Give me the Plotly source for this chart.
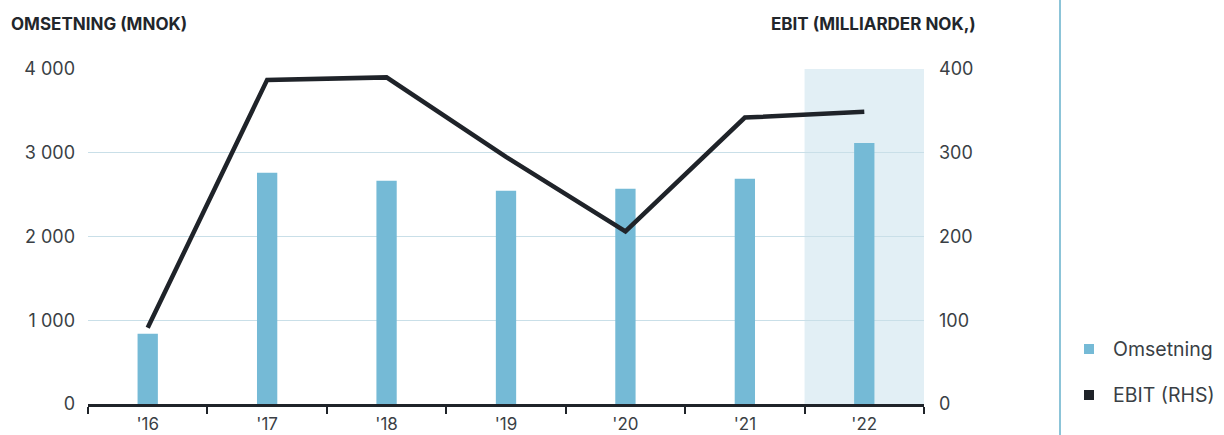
import plotly.graph_objects as go

years = ["'16", "'17", "'18", "'19", "'20", "'21", "'22"]
omsetning = [840, 2760, 2665, 2545, 2570, 2690, 3115]   # MNOK, left axis
ebit = [91, 387, 390, 295, 206, 342, 349]               # right axis (RHS)

bar_color = "#75bad6"
line_color = "#1f2329"
text_color = "#3a3f45"
font_family = "Inter, 'DejaVu Sans', sans-serif"

fig = go.Figure()

fig.add_trace(go.Bar(
    x=years, y=omsetning, name="Omsetning",
    marker=dict(color=bar_color, line=dict(width=0)),
    width=0.17, showlegend=False,
))

fig.add_trace(go.Scatter(
    x=years, y=ebit, name="EBIT (RHS)", yaxis="y2",
    mode="lines", line=dict(color=line_color, width=4.5),
    showlegend=False,
))

# highlighted final year band
fig.add_shape(type="rect", xref="x", yref="y", x0=5.5, x1=6.5, y0=0, y1=4000,
              fillcolor="#e2eff5", line=dict(width=0), layer="below")

# vertical divider next to legend
fig.add_shape(type="line", xref="paper", yref="paper",
              x0=(1060 - 88) / 836, x1=(1060 - 88) / 836, y0=-0.2, y1=1.3,
              line=dict(color="#8cc4d8", width=2))

# legend drawn as squares + labels
legend_items = [("Omsetning", bar_color, 349), ("EBIT (RHS)", line_color, 395)]
for label, color, ypix in legend_items:
    cx = 1089
    fig.add_shape(type="rect", xref="paper", yref="paper",
                  x0=(cx - 5 - 88) / 836, x1=(cx + 5 - 88) / 836,
                  y0=(404 - ypix - 5) / 335, y1=(404 - ypix + 5) / 335,
                  fillcolor=color, line=dict(width=0))
    fig.add_annotation(xref="paper", yref="paper", x=(1111 - 88) / 836,
                       y=(404 - ypix) / 335, text=label, showarrow=False,
                       xanchor="left", yanchor="middle",
                       font=dict(size=19.5, color=text_color, family=font_family))

# axis titles
fig.add_annotation(xref="paper", yref="paper", x=(9 - 88) / 836, y=(404 - 24) / 335,
                   text="<b>OMSETNING (MNOK)</b>", showarrow=False,
                   xanchor="left", yanchor="middle",
                   font=dict(size=17, color="#22262b", family=font_family))
fig.add_annotation(xref="paper", yref="paper", x=(978 - 88) / 836, y=(404 - 24) / 335,
                   text="<b>EBIT (MILLIARDER NOK,)</b>", showarrow=False,
                   xanchor="right", yanchor="middle",
                   font=dict(size=17, color="#22262b", family=font_family))

fig.update_layout(
    width=1224, height=435,
    margin=dict(l=88, r=300, t=69, b=31),
    paper_bgcolor="white", plot_bgcolor="white",
    separators=", ",
    font=dict(family=font_family, color=text_color),
    xaxis=dict(
        type="category", tickson="boundaries", ticks="outside", ticklen=7,
        tickcolor=line_color, tickwidth=1.5, automargin=False,
        showline=True, linecolor=line_color, linewidth=2.5,
        showgrid=False, tickfont=dict(size=17, color=text_color),
        ticklabelstandoff=3, range=[-0.5, 6.5],
    ),
    yaxis=dict(
        range=[0, 4000], tickvals=[0, 1000, 2000, 3000, 4000], tickformat=",d",
        showgrid=True, gridcolor="#c9dfe8", gridwidth=1, zeroline=False,
        showline=False, ticks="", ticklabelstandoff=12, automargin=False,
        tickfont=dict(size=18, color=text_color),
    ),
    yaxis2=dict(
        range=[0, 400], tickvals=[0, 100, 200, 300, 400], overlaying="y",
        side="right", showgrid=False, zeroline=False, showline=False, ticks="",
        ticklabelstandoff=14, automargin=False,
        tickfont=dict(size=18, color=text_color),
    ),
)

fig.write_html("out.html")
